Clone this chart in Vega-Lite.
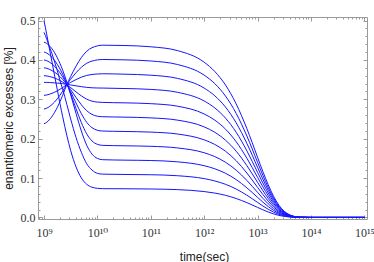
{
"$schema":"https://vega.github.io/schema/vega-lite/v6.json",
"width":329,"height":202,
"autosize":{"type":"none"},
"padding":{"left":38,"top":17,"right":7,"bottom":43},
"background":"white",
"config":{"view":{"stroke":"#9a9a9a","strokeWidth":1},
"axis":{"grid":false,"domain":false,"labelFont":"Liberation Serif, DejaVu Serif","labelFontSize":12,"labelColor":"#333333","tickColor":"#9a9a9a","tickWidth":1,"titleFont":"Liberation Sans","titleFontSize":12,"titleFontWeight":"normal","titleColor":"#222222","labelFlush":false,"labelOverlap":false}},
"data":{"values":[
{"t":1e9,"k":0,"ee":0.5},{"t":1.122e9,"k":0,"ee":0.466},{"t":1.259e9,"k":0,"ee":0.43},{"t":1.413e9,"k":0,"ee":0.395},{"t":1.585e9,"k":0,"ee":0.359},{"t":1.778e9,"k":0,"ee":0.324},{"t":1.995e9,"k":0,"ee":0.289},{"t":2.239e9,"k":0,"ee":0.256},{"t":2.692e9,"k":0,"ee":0.207},{"t":3.162e9,"k":0,"ee":0.17},{"t":3.981e9,"k":0,"ee":0.1285},{"t":5.012e9,"k":0,"ee":0.1003},{"t":6.31e9,"k":0,"ee":0.0841},{"t":7.943e9,"k":0,"ee":0.0767},{"t":1e10,"k":0,"ee":0.0739},{"t":1.259e10,"k":0,"ee":0.073},
{"t":3.162e10,"k":0,"ee":0.0728},{"t":1e11,"k":0,"ee":0.0722},{"t":3.162e11,"k":0,"ee":0.0706},{"t":1e12,"k":0,"ee":0.0657},{"t":1.585e12,"k":0,"ee":0.0618},{"t":2.512e12,"k":0,"ee":0.0561},{"t":3.981e12,"k":0,"ee":0.048},{"t":6.31e12,"k":0,"ee":0.0376},{"t":1e13,"k":0,"ee":0.0255},{"t":1.259e13,"k":0,"ee":0.0194},{"t":1.585e13,"k":0,"ee":0.0138},{"t":1.995e13,"k":0,"ee":0.0089},{"t":2.512e13,"k":0,"ee":0.0052},{"t":3.162e13,"k":0,"ee":0.0026},{"t":3.981e13,"k":0,"ee":0.0011},{"t":5.012e13,"k":0,"ee":0.0004},{"t":6.31e13,"k":0,"ee":0.0001},{"t":1e14,"k":0,"ee":0},{"t":1e15,"k":0,"ee":0},
{"t":1e9,"k":1,"ee":0.47},{"t":1.122e9,"k":1,"ee":0.4538},{"t":1.259e9,"k":1,"ee":0.434},{"t":1.413e9,"k":1,"ee":0.4159},{"t":1.585e9,"k":1,"ee":0.3943},{"t":1.778e9,"k":1,"ee":0.3727},{"t":1.995e9,"k":1,"ee":0.3474},{"t":2.239e9,"k":1,"ee":0.3258},{"t":2.692e9,"k":1,"ee":0.2861},{"t":3.162e9,"k":1,"ee":0.2501},{"t":3.981e9,"k":1,"ee":0.2032},{"t":5.012e9,"k":1,"ee":0.1654},{"t":6.31e9,"k":1,"ee":0.1365},{"t":7.943e9,"k":1,"ee":0.1203},{"t":1e10,"k":1,"ee":0.112},{"t":1.259e10,"k":1,"ee":0.1099},
{"t":3.162e10,"k":1,"ee":0.1091},{"t":1e11,"k":1,"ee":0.1084},{"t":3.162e11,"k":1,"ee":0.1059},{"t":1e12,"k":1,"ee":0.0986},{"t":1.585e12,"k":1,"ee":0.0926},{"t":2.512e12,"k":1,"ee":0.0841},{"t":3.981e12,"k":1,"ee":0.0721},{"t":6.31e12,"k":1,"ee":0.0564},{"t":1e13,"k":1,"ee":0.0382},{"t":1.259e13,"k":1,"ee":0.0291},{"t":1.585e13,"k":1,"ee":0.0207},{"t":1.995e13,"k":1,"ee":0.0134},{"t":2.512e13,"k":1,"ee":0.0078},{"t":3.162e13,"k":1,"ee":0.0039},{"t":3.981e13,"k":1,"ee":0.0017},{"t":5.012e13,"k":1,"ee":0.0006},{"t":6.31e13,"k":1,"ee":0.0001},{"t":1e14,"k":1,"ee":0},{"t":1e15,"k":1,"ee":0},
{"t":1e9,"k":2,"ee":0.445},{"t":1.122e9,"k":2,"ee":0.442},{"t":1.259e9,"k":2,"ee":0.436},{"t":1.413e9,"k":2,"ee":0.4283},{"t":1.585e9,"k":2,"ee":0.4181},{"t":1.778e9,"k":2,"ee":0.4055},{"t":1.995e9,"k":2,"ee":0.3909},{"t":2.239e9,"k":2,"ee":0.3741},{"t":2.692e9,"k":2,"ee":0.343},{"t":3.162e9,"k":2,"ee":0.3116},{"t":3.981e9,"k":2,"ee":0.2644},{"t":5.012e9,"k":2,"ee":0.2196},{"t":6.31e9,"k":2,"ee":0.1834},{"t":7.943e9,"k":2,"ee":0.1607},{"t":1e10,"k":2,"ee":0.1499},{"t":1.259e10,"k":2,"ee":0.1466},
{"t":3.162e10,"k":2,"ee":0.1455},{"t":1e11,"k":2,"ee":0.1445},{"t":3.162e11,"k":2,"ee":0.1412},{"t":1e12,"k":2,"ee":0.1314},{"t":1.585e12,"k":2,"ee":0.1235},{"t":2.512e12,"k":2,"ee":0.1121},{"t":3.981e12,"k":2,"ee":0.0961},{"t":6.31e12,"k":2,"ee":0.0752},{"t":1e13,"k":2,"ee":0.051},{"t":1.259e13,"k":2,"ee":0.0388},{"t":1.585e13,"k":2,"ee":0.0276},{"t":1.995e13,"k":2,"ee":0.0179},{"t":2.512e13,"k":2,"ee":0.0104},{"t":3.162e13,"k":2,"ee":0.0052},{"t":3.981e13,"k":2,"ee":0.0022},{"t":5.012e13,"k":2,"ee":0.0007},{"t":6.31e13,"k":2,"ee":0.0002},{"t":1e14,"k":2,"ee":0},{"t":1e15,"k":2,"ee":0},
{"t":1e9,"k":3,"ee":0.42},{"t":1.122e9,"k":3,"ee":0.4176},{"t":1.259e9,"k":3,"ee":0.4129},{"t":1.413e9,"k":3,"ee":0.4067},{"t":1.585e9,"k":3,"ee":0.3986},{"t":1.778e9,"k":3,"ee":0.3887},{"t":1.995e9,"k":3,"ee":0.377},{"t":2.239e9,"k":3,"ee":0.3637},{"t":2.692e9,"k":3,"ee":0.3388},{"t":3.162e9,"k":3,"ee":0.3141},{"t":3.981e9,"k":3,"ee":0.2766},{"t":5.012e9,"k":3,"ee":0.2409},{"t":6.31e9,"k":3,"ee":0.2122},{"t":7.943e9,"k":3,"ee":0.1941},{"t":1e10,"k":3,"ee":0.1856},{"t":1.259e10,"k":3,"ee":0.183},
{"t":3.162e10,"k":3,"ee":0.1819},{"t":1e11,"k":3,"ee":0.1806},{"t":3.162e11,"k":3,"ee":0.1765},{"t":1e12,"k":3,"ee":0.1643},{"t":1.585e12,"k":3,"ee":0.1544},{"t":2.512e12,"k":3,"ee":0.1401},{"t":3.981e12,"k":3,"ee":0.1201},{"t":6.31e12,"k":3,"ee":0.094},{"t":1e13,"k":3,"ee":0.0637},{"t":1.259e13,"k":3,"ee":0.0485},{"t":1.585e13,"k":3,"ee":0.0345},{"t":1.995e13,"k":3,"ee":0.0224},{"t":2.512e13,"k":3,"ee":0.013},{"t":3.162e13,"k":3,"ee":0.0065},{"t":3.981e13,"k":3,"ee":0.0028},{"t":5.012e13,"k":3,"ee":0.0009},{"t":6.31e13,"k":3,"ee":0.0002},{"t":1e14,"k":3,"ee":0},{"t":1e15,"k":3,"ee":0},
{"t":1e9,"k":4,"ee":0.4},{"t":1.122e9,"k":4,"ee":0.3982},{"t":1.259e9,"k":4,"ee":0.3946},{"t":1.413e9,"k":4,"ee":0.3899},{"t":1.585e9,"k":4,"ee":0.3837},{"t":1.778e9,"k":4,"ee":0.3761},{"t":1.995e9,"k":4,"ee":0.3672},{"t":2.239e9,"k":4,"ee":0.3571},{"t":2.692e9,"k":4,"ee":0.3381},{"t":3.162e9,"k":4,"ee":0.3193},{"t":3.981e9,"k":4,"ee":0.2907},{"t":5.012e9,"k":4,"ee":0.2635},{"t":6.31e9,"k":4,"ee":0.2416},{"t":7.943e9,"k":4,"ee":0.2279},{"t":1e10,"k":4,"ee":0.2214},{"t":1.259e10,"k":4,"ee":0.2194},
{"t":3.162e10,"k":4,"ee":0.2183},{"t":1e11,"k":4,"ee":0.2167},{"t":3.162e11,"k":4,"ee":0.2118},{"t":1e12,"k":4,"ee":0.1971},{"t":1.585e12,"k":4,"ee":0.1853},{"t":2.512e12,"k":4,"ee":0.1681},{"t":3.981e12,"k":4,"ee":0.1441},{"t":6.31e12,"k":4,"ee":0.1128},{"t":1e13,"k":4,"ee":0.0764},{"t":1.259e13,"k":4,"ee":0.0583},{"t":1.585e13,"k":4,"ee":0.0414},{"t":1.995e13,"k":4,"ee":0.0268},{"t":2.512e13,"k":4,"ee":0.0156},{"t":3.162e13,"k":4,"ee":0.0078},{"t":3.981e13,"k":4,"ee":0.0033},{"t":5.012e13,"k":4,"ee":0.0011},{"t":6.31e13,"k":4,"ee":0.0003},{"t":1e14,"k":4,"ee":0},{"t":1e15,"k":4,"ee":0},
{"t":1e9,"k":5,"ee":0.38},{"t":1.122e9,"k":5,"ee":0.3788},{"t":1.259e9,"k":5,"ee":0.3763},{"t":1.413e9,"k":5,"ee":0.373},{"t":1.585e9,"k":5,"ee":0.3688},{"t":1.778e9,"k":5,"ee":0.3636},{"t":1.995e9,"k":5,"ee":0.3575},{"t":2.239e9,"k":5,"ee":0.3505},{"t":2.692e9,"k":5,"ee":0.3374},{"t":3.162e9,"k":5,"ee":0.3245},{"t":3.981e9,"k":5,"ee":0.3048},{"t":5.012e9,"k":5,"ee":0.2861},{"t":6.31e9,"k":5,"ee":0.2711},{"t":7.943e9,"k":5,"ee":0.2616},{"t":1e10,"k":5,"ee":0.2571},{"t":1.259e10,"k":5,"ee":0.2557},
{"t":3.162e10,"k":5,"ee":0.2547},{"t":1e11,"k":5,"ee":0.2528},{"t":3.162e11,"k":5,"ee":0.2471},{"t":1e12,"k":5,"ee":0.23},{"t":1.585e12,"k":5,"ee":0.2162},{"t":2.512e12,"k":5,"ee":0.1961},{"t":3.981e12,"k":5,"ee":0.1681},{"t":6.31e12,"k":5,"ee":0.1316},{"t":1e13,"k":5,"ee":0.0892},{"t":1.259e13,"k":5,"ee":0.068},{"t":1.585e13,"k":5,"ee":0.0483},{"t":1.995e13,"k":5,"ee":0.0313},{"t":2.512e13,"k":5,"ee":0.0182},{"t":3.162e13,"k":5,"ee":0.0091},{"t":3.981e13,"k":5,"ee":0.0039},{"t":5.012e13,"k":5,"ee":0.0013},{"t":6.31e13,"k":5,"ee":0.0003},{"t":1e14,"k":5,"ee":0},{"t":1e15,"k":5,"ee":0},
{"t":1e9,"k":6,"ee":0.36},{"t":1.122e9,"k":6,"ee":0.3593},{"t":1.259e9,"k":6,"ee":0.358},{"t":1.413e9,"k":6,"ee":0.3562},{"t":1.585e9,"k":6,"ee":0.3539},{"t":1.778e9,"k":6,"ee":0.351},{"t":1.995e9,"k":6,"ee":0.3477},{"t":2.239e9,"k":6,"ee":0.3439},{"t":2.692e9,"k":6,"ee":0.3367},{"t":3.162e9,"k":6,"ee":0.3297},{"t":3.981e9,"k":6,"ee":0.3189},{"t":5.012e9,"k":6,"ee":0.3087},{"t":6.31e9,"k":6,"ee":0.3005},{"t":7.943e9,"k":6,"ee":0.2953},{"t":1e10,"k":6,"ee":0.2929},{"t":1.259e10,"k":6,"ee":0.2921},
{"t":3.162e10,"k":6,"ee":0.291},{"t":1e11,"k":6,"ee":0.2889},{"t":3.162e11,"k":6,"ee":0.2825},{"t":1e12,"k":6,"ee":0.2628},{"t":1.585e12,"k":6,"ee":0.247},{"t":2.512e12,"k":6,"ee":0.2242},{"t":3.981e12,"k":6,"ee":0.1921},{"t":6.31e12,"k":6,"ee":0.1504},{"t":1e13,"k":6,"ee":0.1019},{"t":1.259e13,"k":6,"ee":0.0777},{"t":1.585e13,"k":6,"ee":0.0552},{"t":1.995e13,"k":6,"ee":0.0358},{"t":2.512e13,"k":6,"ee":0.0208},{"t":3.162e13,"k":6,"ee":0.0105},{"t":3.981e13,"k":6,"ee":0.0044},{"t":5.012e13,"k":6,"ee":0.0015},{"t":6.31e13,"k":6,"ee":0.0004},{"t":1e14,"k":6,"ee":0},{"t":1e15,"k":6,"ee":0},
{"t":1e9,"k":7,"ee":0.343},{"t":1.122e9,"k":7,"ee":0.3429},{"t":1.259e9,"k":7,"ee":0.3426},{"t":1.413e9,"k":7,"ee":0.3422},{"t":1.585e9,"k":7,"ee":0.3417},{"t":1.778e9,"k":7,"ee":0.3411},{"t":1.995e9,"k":7,"ee":0.3404},{"t":2.239e9,"k":7,"ee":0.3396},{"t":2.692e9,"k":7,"ee":0.338},{"t":3.162e9,"k":7,"ee":0.3365},{"t":3.981e9,"k":7,"ee":0.3342},{"t":5.012e9,"k":7,"ee":0.3321},{"t":6.31e9,"k":7,"ee":0.3303},{"t":7.943e9,"k":7,"ee":0.3292},{"t":1e10,"k":7,"ee":0.3287},{"t":1.259e10,"k":7,"ee":0.3285},
{"t":3.162e10,"k":7,"ee":0.3274},{"t":1e11,"k":7,"ee":0.3251},{"t":3.162e11,"k":7,"ee":0.3178},{"t":1e12,"k":7,"ee":0.2957},{"t":1.585e12,"k":7,"ee":0.2779},{"t":2.512e12,"k":7,"ee":0.2522},{"t":3.981e12,"k":7,"ee":0.2162},{"t":6.31e12,"k":7,"ee":0.1692},{"t":1e13,"k":7,"ee":0.1146},{"t":1.259e13,"k":7,"ee":0.0874},{"t":1.585e13,"k":7,"ee":0.0621},{"t":1.995e13,"k":7,"ee":0.0402},{"t":2.512e13,"k":7,"ee":0.0234},{"t":3.162e13,"k":7,"ee":0.0118},{"t":3.981e13,"k":7,"ee":0.005},{"t":5.012e13,"k":7,"ee":0.0017},{"t":6.31e13,"k":7,"ee":0.0004},{"t":1e14,"k":7,"ee":0},{"t":1e15,"k":7,"ee":0},
{"t":1e9,"k":8,"ee":0.31},{"t":1.122e9,"k":8,"ee":0.3109},{"t":1.259e9,"k":8,"ee":0.3127},{"t":1.413e9,"k":8,"ee":0.3151},{"t":1.585e9,"k":8,"ee":0.318},{"t":1.778e9,"k":8,"ee":0.3214},{"t":1.995e9,"k":8,"ee":0.3254},{"t":2.239e9,"k":8,"ee":0.3299},{"t":2.692e9,"k":8,"ee":0.3375},{"t":3.162e9,"k":8,"ee":0.343},{"t":3.981e9,"k":8,"ee":0.3501},{"t":5.012e9,"k":8,"ee":0.3562},{"t":6.31e9,"k":8,"ee":0.3606},{"t":7.943e9,"k":8,"ee":0.3631},{"t":1e10,"k":8,"ee":0.3643},{"t":1.259e10,"k":8,"ee":0.3648},
{"t":3.162e10,"k":8,"ee":0.3638},{"t":1e11,"k":8,"ee":0.3612},{"t":3.162e11,"k":8,"ee":0.3531},{"t":1e12,"k":8,"ee":0.3285},{"t":1.585e12,"k":8,"ee":0.3088},{"t":2.512e12,"k":8,"ee":0.2802},{"t":3.981e12,"k":8,"ee":0.2402},{"t":6.31e12,"k":8,"ee":0.188},{"t":1e13,"k":8,"ee":0.1274},{"t":1.259e13,"k":8,"ee":0.0971},{"t":1.585e13,"k":8,"ee":0.069},{"t":1.995e13,"k":8,"ee":0.0447},{"t":2.512e13,"k":8,"ee":0.026},{"t":3.162e13,"k":8,"ee":0.0131},{"t":3.981e13,"k":8,"ee":0.0055},{"t":5.012e13,"k":8,"ee":0.0019},{"t":6.31e13,"k":8,"ee":0.0005},{"t":1e14,"k":8,"ee":0},{"t":1e15,"k":8,"ee":0},
{"t":1e9,"k":9,"ee":0.275},{"t":1.122e9,"k":9,"ee":0.2772},{"t":1.259e9,"k":9,"ee":0.2812},{"t":1.413e9,"k":9,"ee":0.2866},{"t":1.585e9,"k":9,"ee":0.2933},{"t":1.778e9,"k":9,"ee":0.3013},{"t":1.995e9,"k":9,"ee":0.3104},{"t":2.239e9,"k":9,"ee":0.3207},{"t":2.692e9,"k":9,"ee":0.3382},{"t":3.162e9,"k":9,"ee":0.3509},{"t":3.981e9,"k":9,"ee":0.3673},{"t":5.012e9,"k":9,"ee":0.3813},{"t":6.31e9,"k":9,"ee":0.3914},{"t":7.943e9,"k":9,"ee":0.3971},{"t":1e10,"k":9,"ee":0.4},{"t":1.259e10,"k":9,"ee":0.4011},
{"t":3.162e10,"k":9,"ee":0.4002},{"t":1e11,"k":9,"ee":0.3973},{"t":3.162e11,"k":9,"ee":0.3884},{"t":1e12,"k":9,"ee":0.3614},{"t":1.585e12,"k":9,"ee":0.3397},{"t":2.512e12,"k":9,"ee":0.3082},{"t":3.981e12,"k":9,"ee":0.2642},{"t":6.31e12,"k":9,"ee":0.2068},{"t":1e13,"k":9,"ee":0.1401},{"t":1.259e13,"k":9,"ee":0.1068},{"t":1.585e13,"k":9,"ee":0.0759},{"t":1.995e13,"k":9,"ee":0.0492},{"t":2.512e13,"k":9,"ee":0.0285},{"t":3.162e13,"k":9,"ee":0.0144},{"t":3.981e13,"k":9,"ee":0.0061},{"t":5.012e13,"k":9,"ee":0.002},{"t":6.31e13,"k":9,"ee":0.0005},{"t":1e14,"k":9,"ee":0},{"t":1e15,"k":9,"ee":0},
{"t":1e9,"k":10,"ee":0.238},{"t":1.122e9,"k":10,"ee":0.2414},{"t":1.259e9,"k":10,"ee":0.2478},{"t":1.413e9,"k":10,"ee":0.2564},{"t":1.585e9,"k":10,"ee":0.267},{"t":1.778e9,"k":10,"ee":0.2796},{"t":1.995e9,"k":10,"ee":0.294},{"t":2.239e9,"k":10,"ee":0.3102},{"t":2.692e9,"k":10,"ee":0.338},{"t":3.162e9,"k":10,"ee":0.358},{"t":3.981e9,"k":10,"ee":0.384},{"t":5.012e9,"k":10,"ee":0.406},{"t":6.31e9,"k":10,"ee":0.422},{"t":7.943e9,"k":10,"ee":0.431},{"t":1e10,"k":10,"ee":0.4356},{"t":1.259e10,"k":10,"ee":0.4374},
{"t":3.162e10,"k":10,"ee":0.4366},{"t":1e11,"k":10,"ee":0.4334},{"t":3.162e11,"k":10,"ee":0.4237},{"t":1e12,"k":10,"ee":0.3942},{"t":1.585e12,"k":10,"ee":0.3705},{"t":2.512e12,"k":10,"ee":0.3363},{"t":3.981e12,"k":10,"ee":0.2882},{"t":6.31e12,"k":10,"ee":0.2256},{"t":1e13,"k":10,"ee":0.1529},{"t":1.259e13,"k":10,"ee":0.1165},{"t":1.585e13,"k":10,"ee":0.0828},{"t":1.995e13,"k":10,"ee":0.0537},{"t":2.512e13,"k":10,"ee":0.0311},{"t":3.162e13,"k":10,"ee":0.0157},{"t":3.981e13,"k":10,"ee":0.0066},{"t":5.012e13,"k":10,"ee":0.0022},{"t":6.31e13,"k":10,"ee":0.0006},{"t":1e14,"k":10,"ee":0},{"t":1e15,"k":10,"ee":0}
]},
"resolve":{"axis":{"x":"independent","y":"independent"}},
"layer":[
{"mark":{"type":"line","color":"#1414ff","strokeWidth":1,"interpolate":"monotone"},
"encoding":{
"x":{"field":"t","type":"quantitative","scale":{"type":"log","domain":[7.73e8,1.122e15],"nice":false},
"axis":{"orient":"bottom","values":[1e9,1e10,1e11,1e12,1e13,1e14,1e15],"ticks":false,"labelPadding":8,
"labelExpr":"'10' + (round(log(datum.value)/LN10)==9 ? '⁹' : round(log(datum.value)/LN10)==10 ? '¹⁰' : round(log(datum.value)/LN10)==11 ? '¹¹' : round(log(datum.value)/LN10)==12 ? '¹²' : round(log(datum.value)/LN10)==13 ? '¹³' : round(log(datum.value)/LN10)==14 ? '¹⁴' : '¹⁵')",
"title":"time(sec)","titleX":166,"titleY":41,"titleBaseline":"alphabetic","titleAlign":"center"}},
"y":{"field":"ee","type":"quantitative","scale":{"domain":[-0.004,0.509],"nice":false,"zero":false},
"axis":{"orient":"left","values":[0,0.1,0.2,0.3,0.4,0.5],"format":".1f","ticks":false,"labelPadding":3,
"title":"enantiomeric excesses [%]","titleX":-30,"titleY":101,"titleAngle":-90,"titleAlign":"center","titleBaseline":"middle"}},
"detail":{"field":"k","type":"nominal"}}},
{"transform":[{"filter":"datum.t == 1e15"}],"mark":{"type":"point","opacity":0},
"encoding":{
"x":{"field":"t","type":"quantitative","scale":{"type":"log","domain":[7.73e8,1.122e15],"nice":false},
"axis":{"orient":"bottom","values":[1e9,1e10,1e11,1e12,1e13,1e14,1e15],"labels":false,"tickSize":-4,"title":null}},
"y":{"field":"ee","type":"quantitative","scale":{"domain":[-0.004,0.509],"nice":false,"zero":false},
"axis":{"orient":"left","values":[0,0.1,0.2,0.3,0.4,0.5],"labels":false,"tickSize":-4,"title":null}}}},
{"transform":[{"filter":"datum.t == 1e15"}],"mark":{"type":"point","opacity":0},
"encoding":{
"x":{"field":"t","type":"quantitative","scale":{"type":"log","domain":[7.73e8,1.122e15],"nice":false},
"axis":{"orient":"bottom","values":[8e8,9e8,2e9,3e9,4e9,5e9,6e9,7e9,8e9,9e9,2e10,3e10,4e10,5e10,6e10,7e10,8e10,9e10,2e11,3e11,4e11,5e11,6e11,7e11,8e11,9e11,2e12,3e12,4e12,5e12,6e12,7e12,8e12,9e12,2e13,3e13,4e13,5e13,6e13,7e13,8e13,9e13,2e14,3e14,4e14,5e14,6e14,7e14,8e14,9e14],"labels":false,"tickSize":-2,"title":null}},
"y":{"field":"ee","type":"quantitative","scale":{"domain":[-0.004,0.509],"nice":false,"zero":false},
"axis":{"orient":"left","values":[0.02,0.04,0.06,0.08,0.12,0.14,0.16,0.18,0.22,0.24,0.26,0.28,0.32,0.34,0.36,0.38,0.42,0.44,0.46,0.48],"labels":false,"tickSize":-2,"title":null}}}},
{"transform":[{"filter":"datum.t == 1e15"}],"mark":{"type":"point","opacity":0},
"encoding":{
"x":{"field":"t","type":"quantitative","scale":{"type":"log","domain":[7.73e8,1.122e15],"nice":false},
"axis":{"orient":"top","values":[1e9,1e10,1e11,1e12,1e13,1e14,1e15],"labels":false,"tickSize":-4,"title":null}},
"y":{"field":"ee","type":"quantitative","scale":{"domain":[-0.004,0.509],"nice":false,"zero":false},
"axis":{"orient":"right","values":[0,0.1,0.2,0.3,0.4,0.5],"labels":false,"tickSize":-4,"title":null}}}},
{"transform":[{"filter":"datum.t == 1e15"}],"mark":{"type":"point","opacity":0},
"encoding":{
"x":{"field":"t","type":"quantitative","scale":{"type":"log","domain":[7.73e8,1.122e15],"nice":false},
"axis":{"orient":"top","values":[8e8,9e8,2e9,3e9,4e9,5e9,6e9,7e9,8e9,9e9,2e10,3e10,4e10,5e10,6e10,7e10,8e10,9e10,2e11,3e11,4e11,5e11,6e11,7e11,8e11,9e11,2e12,3e12,4e12,5e12,6e12,7e12,8e12,9e12,2e13,3e13,4e13,5e13,6e13,7e13,8e13,9e13,2e14,3e14,4e14,5e14,6e14,7e14,8e14,9e14],"labels":false,"tickSize":-2,"title":null}},
"y":{"field":"ee","type":"quantitative","scale":{"domain":[-0.004,0.509],"nice":false,"zero":false},
"axis":{"orient":"right","values":[0.02,0.04,0.06,0.08,0.12,0.14,0.16,0.18,0.22,0.24,0.26,0.28,0.32,0.34,0.36,0.38,0.42,0.44,0.46,0.48],"labels":false,"tickSize":-2,"title":null}}}}
]
}
